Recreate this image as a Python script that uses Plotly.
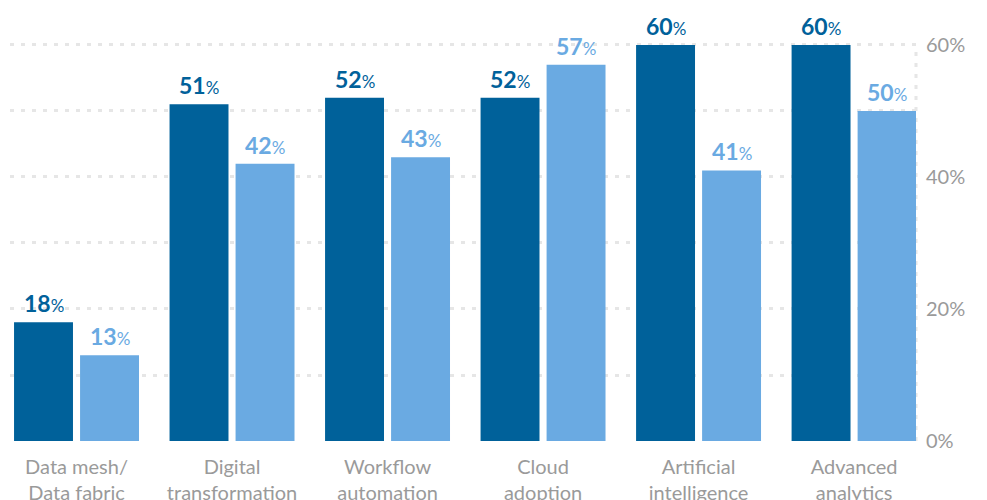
import plotly.graph_objects as go

categories = ["Data mesh/<br>Data fabric", "Digital<br>transformation", "Workflow<br>automation",
              "Cloud<br>adoption", "Artificial<br>intelligence", "Advanced<br>analytics"]
series_a = [18, 51, 52, 52, 60, 60]
series_b = [13, 42, 43, 57, 41, 50]
y_tick_vals = [0, 10, 20, 30, 40, 50, 60]
y_tick_text = ["0%", "", "20%", "", "40%", "", "60%"]

DARK = "#00619a"
LIGHT = "#6aaae2"
GRID = "#e6e6e6"
GRAY = "#9a9a9a"
FONT = "Lato, 'Open Sans', sans-serif"

xs = list(range(len(categories)))
OFF_A, OFF_B, W = -0.402, 0.0225, 0.379

def label(v):
    return f"<b>{v}</b><span style='font-size:17px'>%</span>"

fig = go.Figure()
fig.add_trace(go.Bar(x=xs, y=series_a, offset=OFF_A, width=W, marker_color=DARK,
                     marker_line_width=0, hoverinfo="skip"))
fig.add_trace(go.Bar(x=xs, y=series_b, offset=OFF_B, width=W, marker_color=LIGHT,
                     marker_line_width=0, hoverinfo="skip"))

for vals, off, col in [(series_a, OFF_A, DARK), (series_b, OFF_B, LIGHT)]:
    for x, v in zip(xs, vals):
        fig.add_annotation(x=x + off + W / 2, y=v, xref="x", yref="y", text=label(v),
                           showarrow=False, yanchor="bottom", yshift=3,
                           font=dict(color=col, size=23, family=FONT))

fig.add_shape(type="line", xref="paper", yref="y", x0=1, x1=1, y0=0, y1=60,
              line=dict(color=GRID, width=3, dash="4px,7px"), layer="below")

fig.update_layout(
    width=987, height=500,
    margin=dict(l=2, r=79, t=0, b=66),
    paper_bgcolor="white", plot_bgcolor="white",
    showlegend=False,
    barmode="overlay",
    font=dict(family=FONT, color=GRAY),
    xaxis=dict(range=[-0.428, 5.398], tickvals=xs, ticktext=categories,
               showgrid=False, zeroline=False, showline=False, ticks="",
               ticklabelstandoff=11,
               tickfont=dict(size=20, color=GRAY, family=FONT)),
    yaxis=dict(range=[-0.15, 65.6], side="right", tickvals=y_tick_vals, ticktext=y_tick_text,
               showgrid=True, gridcolor=GRID, gridwidth=3, griddash="4px,7px",
               zeroline=False, showline=False, ticks="", ticklabelstandoff=9,
               tickfont=dict(size=20, color=GRAY, family=FONT)),
)

fig.write_html("out.html")
